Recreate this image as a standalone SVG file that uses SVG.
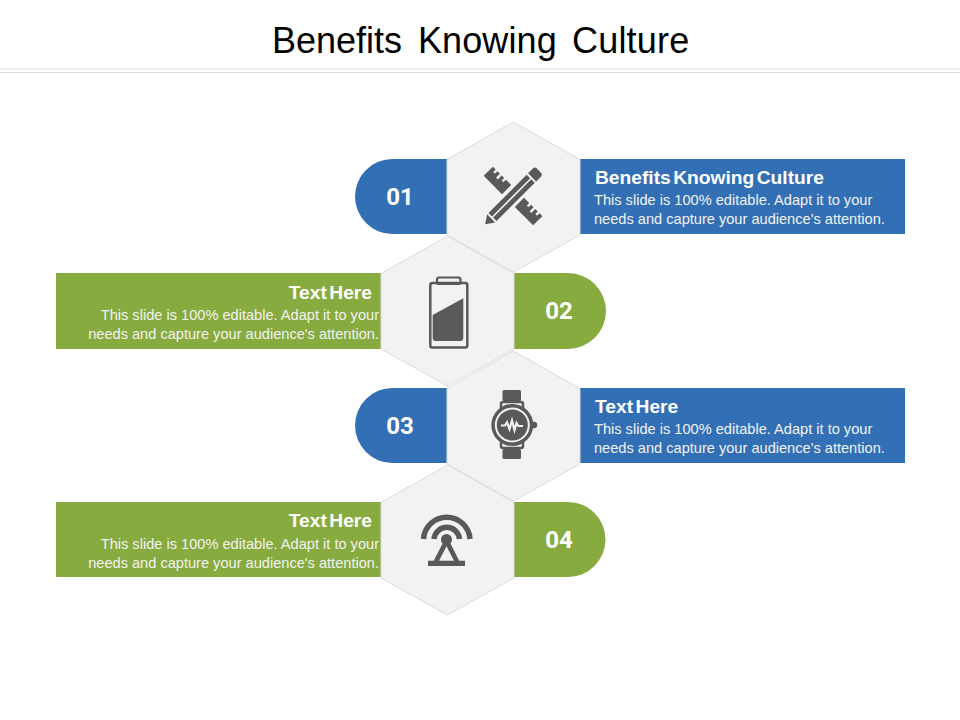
<svg xmlns="http://www.w3.org/2000/svg" width="960" height="720" viewBox="0 0 960 720">
<style>
.t{font-family:"Liberation Sans",Arial,sans-serif;fill:#fff}
.h{font-size:19.200px;font-weight:bold;word-spacing:-2.800px}
.b{font-size:14.600px;fill:#f2f2f2}
.n{font-family:Roboto,"Liberation Sans",sans-serif;font-size:24px;font-weight:bold;text-anchor:middle}
.e{text-anchor:end}
.hex{fill:#f2f2f2;stroke:#dcdcdc;stroke-width:1}
.blue{fill:#336fb5}
.green{fill:#87ab3f}
.i{fill:#595959}
</style>
<defs>
<polygon id="hx" class="hex" points="0,-75 66.5,-37.5 66.5,38 0,75 -66.5,38 -66.5,-37.5"/>
</defs>
<rect width="960" height="720" fill="#fff"/>
<g id="header">
<text y="53.300" font-family="Liberation Sans, Arial, sans-serif" font-size="36" fill="#000"><tspan x="272">Benefits</tspan><tspan x="418" letter-spacing="0.100">Knowing</tspan><tspan x="572" letter-spacing="0.200">Culture</tspan></text>
<path d="M0 69H960M0 72.500H960" stroke="#d9d9d9" stroke-width="1" fill="none"/>
</g>
<g id="connectors"></g>
<g id="node-01">
<path class="blue" d="M448 159H392.500A37.500 37.500 0 0 0 392.500 234H448Z"/>
<rect class="blue" x="580" y="159" width="325" height="75"/>
<use href="#hx" x="513.500" y="197"/>
<text class="t n" x="400" y="205">01</text>
<text class="t h" x="595" y="184.300">Benefits Knowing Culture</text>
<text class="t b" x="594" y="205">This slide is 100% editable. Adapt it to your</text>
<text class="t b" x="594" y="224">needs and capture your audience's attention.</text>
<g transform="translate(513,196) rotate(45)">
<path class="i" d="M-35 -6.500H-31V-3H-28.500V-6.500H-25V-1H-22.500V-6.500H-19V-3H-16.500V-6.500H-9V6.500H-35ZM9 -6.500H16.500V-3H19V-6.500H22.500V-1H25V-6.500H28.500V-3H31V-6.500H35V6.500H9Z"/>
</g>
<g transform="translate(512,197.500) rotate(-45)">
<path d="M-38 0L-27 -7.500H38V7.500H-27Z" fill="#f2f2f2"/>
<path class="i" d="M-38 0L-29.500 -5.700V5.700Z"/>
<path class="i" d="M-27.500 -5.700H26.500V-0.800H-27.500ZM-27.500 0.800H26.500V5.700H-27.500Z"/>
<path class="i" d="M28.500 -5.700H35.500Q38 -5.700 38 -3.200V3.200Q38 5.700 35.500 5.700H28.500Z"/>
</g>
</g>
<g id="node-02">
<path class="green" d="M514 273H568A38 38 0 0 1 568 349H514Z"/>
<rect class="green" x="56" y="273" width="326" height="76"/>
<use href="#hx" x="447.500" y="311"/>
<text class="t n" x="559" y="319">02</text>
<text class="t h e" x="372" y="298.500">Text Here</text>
<text class="t b e" x="379" y="320">This slide is 100% editable. Adapt it to your</text>
<text class="t b e" x="379" y="339">needs and capture your audience's attention.</text>
<rect x="430.300" y="283" width="37" height="64.500" rx="2" fill="none" stroke="#595959" stroke-width="2.500"/>
<rect x="437" y="277.500" width="23.500" height="6.500" rx="2" fill="none" stroke="#595959" stroke-width="2.200"/>
<path class="i" d="M432.700 315L463.300 298.300V338Q463.300 341 460.300 341H435.700Q432.700 341 432.700 338Z"/>
</g>
<g id="node-03">
<path class="blue" d="M448 388H392.500A37.500 37.500 0 0 0 392.500 463H448Z"/>
<rect class="blue" x="580" y="388" width="325" height="75"/>
<use href="#hx" x="513.500" y="426"/>
<text class="t n" x="400" y="434">03</text>
<text class="t h" x="595" y="412.500">Text Here</text>
<text class="t b" x="594" y="434">This slide is 100% editable. Adapt it to your</text>
<text class="t b" x="594" y="453">needs and capture your audience's attention.</text>
<rect class="i" x="502.500" y="390" width="18.500" height="11" rx="1.500"/>
<rect class="i" x="502.500" y="449" width="18.500" height="10" rx="1.500"/>
<rect x="501" y="402" width="22" height="46" rx="2" fill="none" stroke="#595959" stroke-width="2.500"/>
<circle cx="534" cy="425" r="3.200" class="i"/>
<circle cx="512.300" cy="425" r="21" class="i"/>
<circle cx="512.300" cy="425" r="16.500" fill="none" stroke="#f2f2f2" stroke-width="2"/>
<path d="M501 425.500H505L507 422.500L509.500 429L512 420.500L514.500 430L516.500 423L518.500 426H523" fill="none" stroke="#f2f2f2" stroke-width="2.200"/>
</g>
<g id="node-04">
<path class="green" d="M514 502H568A37.500 37.500 0 0 1 568 577H514Z"/>
<rect class="green" x="56" y="502" width="326" height="75"/>
<use href="#hx" x="447.500" y="540"/>
<text class="t n" x="559" y="548">04</text>
<text class="t h e" x="372" y="527">Text Here</text>
<text class="t b e" x="379" y="549">This slide is 100% editable. Adapt it to your</text>
<text class="t b e" x="379" y="567.500">needs and capture your audience's attention.</text>
<path d="M423.500 539A23.300 23.300 0 0 1 470 539M434 539A12.800 12.800 0 0 1 459.500 539" fill="none" stroke="#595959" stroke-width="5.500"/>
<circle cx="446.500" cy="539.500" r="5.500" class="i"/>
<path d="M446.500 541L436 561.500M446.500 541L457 561.500" fill="none" stroke="#595959" stroke-width="4.800"/>
<rect class="i" x="428" y="560.700" width="37" height="5.300"/>
</g>
</svg>
